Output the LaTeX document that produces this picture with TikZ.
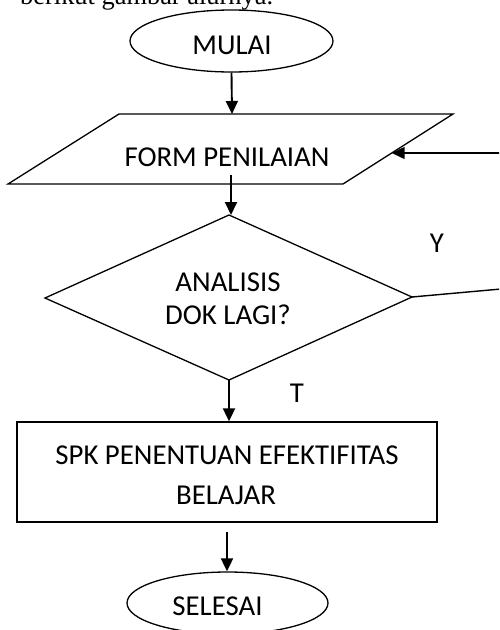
\documentclass[tikz,border=0pt]{standalone}
\usepackage{fontspec}
\setmainfont{Liberation Serif}
\newfontfamily\calibfont{Carlito}
\usetikzlibrary{shapes.geometric,arrows.meta,calc}
\begin{document}
\begin{tikzpicture}[x=1pt,y=-1pt,
  shapeline/.style={draw=black,line width=1.3pt},
  arr/.style={line width=1.9pt,-{Triangle[width=12pt,length=13pt]}},
  plainline/.style={line width=1.4pt},
  lbl/.style={font=\calibfont\fontsize{28.8}{33}\selectfont,inner sep=0pt,anchor=center},
  term/.style={shapeline,ellipse,minimum width=203pt,minimum height=62pt,inner sep=0pt},
  procbox/.style={shapeline,rectangle,minimum width=420pt,minimum height=100pt,inner sep=0pt}]
\useasboundingbox (0,0) rectangle (499,630);
\clip (0,0) rectangle (499,630);

% intro text (cut at top)
\node[anchor=base west,inner sep=0pt,font=\fontsize{26.4}{30}\selectfont] (intro) at (20,4) {berikut gambar alurnya.};

% start
\node[term] (mulai) at (231.5,41) {};
\node[lbl] (mulaitxt) at (232,45) {MULAI};

% parallelogram
\coordinate (ptl) at (119,114);
\coordinate (ptr) at (453,114);
\coordinate (pbr) at (343,184);
\coordinate (pbl) at (8,184);
\draw[shapeline,line join=miter] (ptl) -- (ptr) -- (pbr) -- (pbl) -- cycle;
\coordinate (ptop) at (232,114);
\coordinate (pin) at ($(ptr)!0.557!(pbr)$);
\coordinate (pstart) at (231,175);
\node[lbl] (formtxt) at (227,157) {FORM PENILAIAN};

% decision
\coordinate (dt) at (229,215);
\coordinate (dl) at (45,298);
\coordinate (dr) at (412,297);
\coordinate (db) at (229,380);
\draw[shapeline,line join=miter] (dt) -- (dr) -- (db) -- (dl) -- cycle;
\node[lbl] (ana1) at (228,282) {ANALISIS};
\node[lbl] (ana2) at (228,315) {DOK LAGI?};
\node[lbl] (ylbl) at (437,243) {Y};
\node[lbl] (tlbl) at (297,393) {T};

% feedback loop ends (run off the right edge)
\coordinate (yend) at (501,289);
\coordinate (fbstart) at (501,153);
\draw[plainline] (dr) -- (yend);
\draw[arr,line width=1.5pt] (fbstart) -- (pin |- fbstart);

% process
\node[procbox] (spk) at (227,472) {};
\node[lbl] (spk1) at (227,455) {SPK PENENTUAN EFEKTIFITAS};
\node[lbl] (spk2) at (226,495) {BELAJAR};
\coordinate (sstart) at (227,532);

% end
\node[term,minimum width=201pt] (selesai) at (227.5,603) {};
\node[lbl] (selesaitxt) at (217.5,606) {SELESAI};

% arrows
\draw[arr] (mulai.south) -- (ptop);
\draw[arr] (pstart) -- (pstart |- dt);
\draw[arr] (db) -- (db |- spk.north);
\draw[arr] (sstart) -- (sstart |- selesai.north);
\end{tikzpicture}
\end{document}
